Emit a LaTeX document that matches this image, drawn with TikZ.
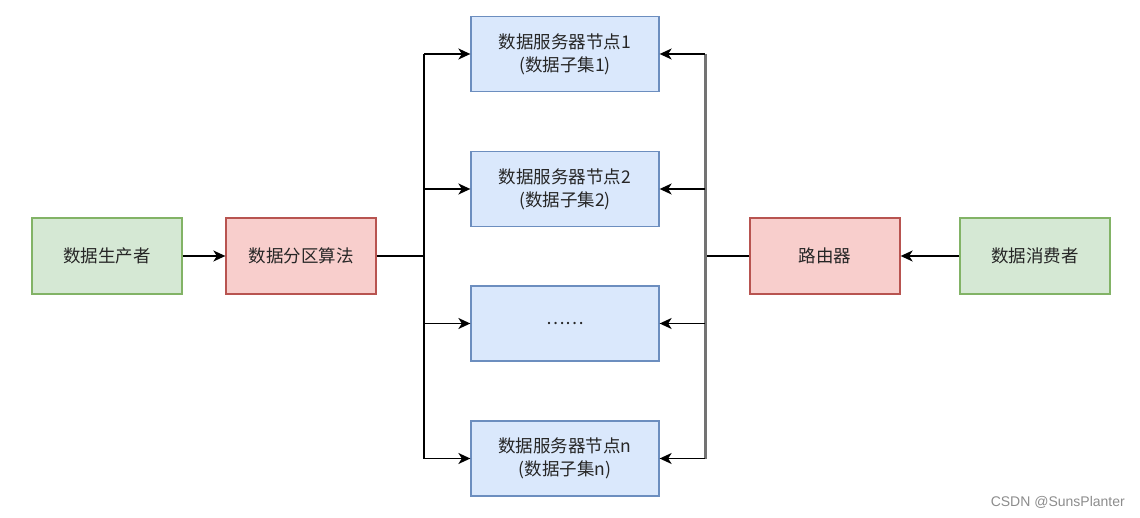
\documentclass[tikz,border=0pt]{standalone}
\usepackage{fontspec}
\setmainfont{Liberation Sans}
\newfontfamily\cjk{Noto Sans CJK SC}
\usetikzlibrary{arrows.meta}
\definecolor{gfill}{HTML}{D5E8D4}\definecolor{gline}{HTML}{82B366}
\definecolor{rfill}{HTML}{F8CECC}\definecolor{rline}{HTML}{B85450}
\definecolor{bfill}{HTML}{DAE8FC}\definecolor{bline}{HTML}{6C8EBF}
\definecolor{txt}{HTML}{262626}
\tikzset{
  box/.style={draw, line width=1.3pt, minimum width=150pt, minimum height=76pt, inner sep=0pt, align=center, text=txt,
    font=\cjk\fontsize{17.5}{23}\selectfont},
  gbox/.style={box, fill=gfill, draw=gline},
  rbox/.style={box, fill=rfill, draw=rline},
  bbox/.style={box, fill=bfill, draw=bline, minimum width=188pt, minimum height=75pt},
  conn/.style={draw=black, line width=1.7pt},
  arr/.style={conn, -{Stealth[length=12pt,width=11pt,inset=3.5pt]}},
  trunkg/.style={draw=black!55, line width=3pt},
}
\begin{document}
\begin{tikzpicture}[x=1pt,y=-1pt]
\useasboundingbox (0,0) rectangle (1140,518);
\node[gbox] (prod) at (107,256) {数据生产者};
\node[rbox] (part) at (301,256) {数据分区算法};
\node[bbox] (s1) at (565,54) {数据服务器节点1\\(数据子集1)};
\node[bbox] (s2) at (565,189) {数据服务器节点2\\(数据子集2)};
\node[bbox] (s3) at (565,323.5) {……};
\node[bbox] (sn) at (565,458.5) {数据服务器节点n\\(数据子集n)};
\node[rbox] (rout) at (825,256) {路由器};
\node[gbox] (cons) at (1035,256) {数据消费者};
\coordinate (lj) at (424,256);
\coordinate (lt) at (424,54);
\coordinate (lb) at (424,458.5);
\coordinate (rj) at (705,256);
\coordinate (rt) at (705,54);
\coordinate (rb) at (705,458.5);
% left
\draw[arr] (prod) -- (part);
\draw[conn] (part.east) -- (lj);
\draw[conn] (lt) -- (lb);
\draw[arr] (lt) -- (s1.west);
\draw[arr] (424,189) -- (s2.west);
\draw[arr] (424,323.5) -- (s3.west);
\draw[arr] (lb) -- (sn.west);
% right
\draw[arr] (cons) -- (rout);
\draw[conn] (rout.west) -- (rj);
\draw[trunkg] (rt) -- (rb);
\draw[arr] (rt) -- (s1.east);
\draw[arr] (705,189) -- (s2.east);
\draw[arr] (705,323.5) -- (s3.east);
\draw[arr] (rb) -- (sn.east);
\node[anchor=east, text=black!45, font=\fontsize{14}{16}\selectfont, inner sep=0pt] (wm) at (1125,502) {CSDN @SunsPlanter};
\end{tikzpicture}
\end{document}
